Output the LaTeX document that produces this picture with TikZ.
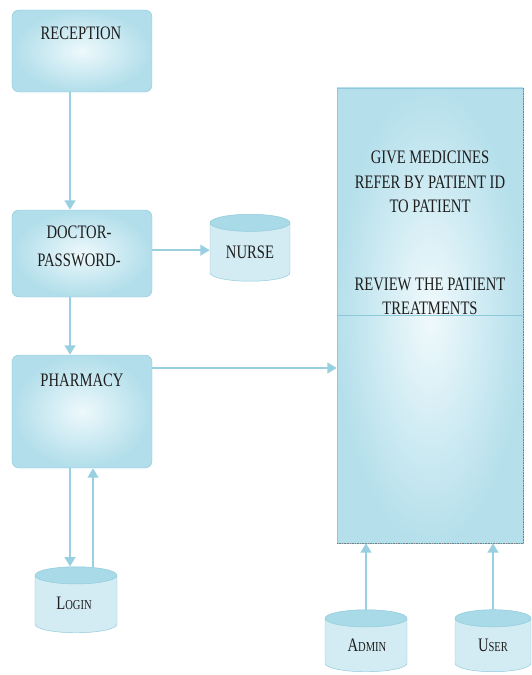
\documentclass[tikz,border=0pt]{standalone}
\usepackage{fontspec}
\setmainfont{Liberation Serif}
\usepackage{graphicx}
\usetikzlibrary{shapes.geometric, arrows.meta}

\definecolor{boxblue}{HTML}{A8DAE8}
\definecolor{boxlight}{HTML}{E6F6FA}
\definecolor{flowblue}{HTML}{98D0E1}
\definecolor{edgeblue}{HTML}{8EC9DB}
\definecolor{inkgray}{HTML}{1E1E1E}

\newcommand{\tallcaps}[1]{\scalebox{1}[1.3]{#1}}

\begin{document}
\begin{tikzpicture}[x=0.03cm, y=-0.03cm,
    procbox/.style={draw=edgeblue, rounded corners=6pt, inner color=boxlight!70!white, outer color=boxblue!90!white, minimum width=4.2cm},
    store/.style={cylinder, shape border rotate=90, aspect=2.2, draw=edgeblue, cylinder uses custom fill, cylinder body fill=boxblue!50!white, cylinder end fill=boxblue},
    flow/.style={draw=flowblue, line width=2.2pt, -{Triangle[length=8pt,width=9pt]}},
    boxtext/.style={font=\fontsize{12.5}{24}\selectfont, text=inkgray, align=center, inner sep=0pt}]
    \useasboundingbox (0,0) rectangle (531,675);
    % Boxes on the left
    \node[procbox, minimum height=2.46cm] (recep) at (82,51) {};
    \node[boxtext] (recept) at (81,33) {\tallcaps{RECEPTION}};
    \node[procbox, minimum height=2.61cm] (doctor) at (82,253.5) {};
    \node[boxtext] (doctort) at (79,246) {\tallcaps{DOCTOR-}\\\tallcaps{PASSWORD-}};
    \node[procbox, minimum height=3.39cm] (pharm) at (82,411.5) {};
    \node[boxtext] (pharmt) at (82,380) {\tallcaps{PHARMACY}};
    % Stores
    \node[store, minimum width=2.4cm, minimum height=2.01cm] (nurse) at (250,254) {};
    \node[boxtext] (nurset) at (250,252) {\tallcaps{NURSE}};
    \node[store, minimum width=2.46cm, minimum height=1.98cm] (login) at (76,606) {};
    \node[boxtext] (logint) at (74,603) {\tallcaps{L{\small OGIN}}};
    \node[store, minimum width=2.46cm, minimum height=1.86cm] (admin) at (366,647) {};
    \node[boxtext] (admint) at (367,645) {\tallcaps{A{\small DMIN}}};
    \node[store, minimum width=2.28cm, minimum height=1.86cm] (usr) at (493,647) {};
    \node[boxtext] (usrt) at (493,645) {\tallcaps{U{\small SER}}};
    % Big panel
    \node[draw=edgeblue, inner color=boxlight!60!white, outer color=boxblue!85!white, minimum width=5.58cm, minimum height=13.65cm] (panel) at (430,315.5) {};
    \draw[edgeblue] (panel.west) -- (panel.east);
    \draw[densely dotted, gray] (panel.north east) -- (panel.south east) -- (panel.south west);
    \node[boxtext, font=\fontsize{12.5}{21}\selectfont] (panela) at (430,182) {\tallcaps{GIVE MEDICINES}\\\tallcaps{REFER BY PATIENT ID}\\\tallcaps{TO PATIENT}};
    \node[boxtext, font=\fontsize{12.5}{21}\selectfont] (panelb) at (430,296.5) {\tallcaps{REVIEW THE PATIENT}\\\tallcaps{TREATMENTS}};
    % Flows
    \draw[flow] ([xshift=-0.36cm]recep.south) -- ([xshift=-0.36cm]doctor.north);
    \draw[flow] ([yshift=0.1cm]doctor.east) -- ([yshift=0.1cm]doctor.east -| nurse.west);
    \draw[flow] ([xshift=-0.36cm]doctor.south) -- ([xshift=-0.36cm]pharm.north);
    \coordinate (pharmout) at (152,368);
    \draw[flow] (pharmout) -- (pharmout -| panel.west);
    \draw[flow] ([xshift=-0.36cm]pharm.south) -- ([xshift=-0.36cm]pharm.south |- login.north);
    \draw[flow] ([xshift=0.51cm]login.north) -- ([xshift=0.51cm]login.north |- pharm.south);
    \draw[flow] (admin.north) -- (admin.north |- panel.south);
    \draw[flow] (usr.north) -- (usr.north |- panel.south);
\end{tikzpicture}
\end{document}
